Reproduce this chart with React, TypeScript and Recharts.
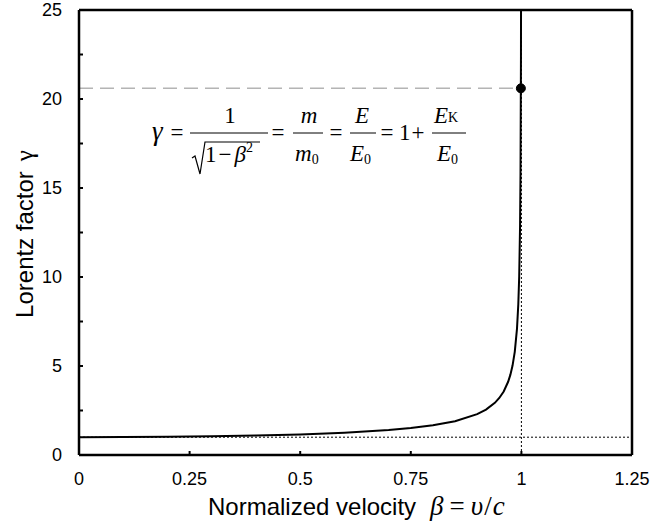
import React from "react";
import {
  LineChart,
  Line,
  XAxis,
  YAxis,
  ReferenceLine,
  ReferenceDot,
} from "recharts";

// speed beta = v/c and the Lorentz factor
const betaValues = [
  0, 0.1, 0.2, 0.3, 0.4, 0.5, 0.6, 0.7, 0.75, 0.8, 0.85, 0.9, 0.92, 0.94, 0.95,
  0.96, 0.97, 0.975, 0.98, 0.985, 0.99, 0.993, 0.995, 0.997, 0.998, 0.999, 0.9995,
];
const gammaValues = [
  1, 1.005, 1.021, 1.048, 1.091, 1.155, 1.25, 1.4, 1.512, 1.667, 1.898, 2.294,
  2.551, 2.931, 3.203, 3.571, 4.113, 4.502, 5.025, 5.795, 7.089, 8.47, 10.01,
  12.92, 15.82, 22.37, 31.63,
];

const xTicks = [0, 0.25, 0.5, 0.75, 1, 1.25];
const yTicks = [0, 2.5, 5, 7.5, 10, 12.5, 15, 17.5, 20, 22.5, 25];

// marked point on the curve
const markBeta = 0.9988;
const markGamma = 20.6;

const data = betaValues.map((b, i) => ({ beta: b, gamma: gammaValues[i] }));

const SANS = "'Liberation Sans', Arial, Helvetica, sans-serif";
const SERIF = "'Liberation Serif', 'Times New Roman', serif";

function YTick(props: any) {
  const { x, y, payload } = props;
  const v = payload.value;
  const major = v % 5 === 0;
  return (
    <g>
      <line x1={x} y1={y} x2={x + 4} y2={y} stroke="#000" strokeWidth={2} />
      {major && (
        <text x={x - 17} y={y + 6} textAnchor="end" fontSize={18} fontFamily={SANS} fill="#000">
          {v}
        </text>
      )}
    </g>
  );
}

function XTick(props: any) {
  const { x, y, payload } = props;
  return (
    <g>
      <line x1={x} y1={y} x2={x} y2={y - 4} stroke="#000" strokeWidth={2} />
      <text x={x} y={y + 30} textAnchor="middle" fontSize={18} fontFamily={SANS} fill="#000">
        {payload.value}
      </text>
    </g>
  );
}

function Formula() {
  const fs = 23;
  const sub = 14;
  return (
    <svg
      width={651}
      height={526}
      style={{ position: "absolute", left: 0, top: 0, pointerEvents: "none" }}
      fontFamily={SERIF}
      fontSize={fs}
      fill="#000"
    >
      <text x={152} y={140} fontStyle="italic" fontSize={27}>γ</text>
      <text x={177} y={140} textAnchor="middle">=</text>
      {/* 1 / sqrt(1 - beta^2) */}
      <line x1={190} y1={133} x2={268} y2={133} stroke="#000" strokeWidth={1} />
      <text x={230} y={123} textAnchor="middle">1</text>
      <path d="M192 158 L195 156 L200 174 L205 142 L260 142" stroke="#000" strokeWidth={1.2} fill="none" />
      <text x={205} y={162}>
        1<tspan dx={2}>−</tspan>
        <tspan dx={3} fontStyle="italic">β</tspan>
        <tspan fontSize={sub} dy={-10}>2</tspan>
      </text>
      <text x={278} y={140} textAnchor="middle">=</text>
      {/* m / m0 */}
      <line x1={293} y1={133} x2={323} y2={133} stroke="#000" strokeWidth={1} />
      <text x={309} y={123} textAnchor="middle" fontStyle="italic">m</text>
      <text x={295} y={161}>
        <tspan fontStyle="italic">m</tspan>
        <tspan fontSize={sub} dy={3}>0</tspan>
      </text>
      <text x={336} y={140} textAnchor="middle">=</text>
      {/* E / E0 */}
      <line x1={350} y1={133} x2={376} y2={133} stroke="#000" strokeWidth={1} />
      <text x={362} y={123} textAnchor="middle" fontStyle="italic">E</text>
      <text x={350} y={161}>
        <tspan fontStyle="italic">E</tspan>
        <tspan fontSize={sub} dy={3}>0</tspan>
      </text>
      <text x={387} y={140} textAnchor="middle">=</text>
      <text x={399} y={140}>1</text>
      <text x={418} y={140} textAnchor="middle">+</text>
      {/* EK / E0 */}
      <line x1={432} y1={133} x2={466} y2={133} stroke="#000" strokeWidth={1} />
      <text x={434} y={123}>
        <tspan fontStyle="italic">E</tspan>
        <tspan fontSize={sub} dy={-1}>K</tspan>
      </text>
      <text x={437} y={161}>
        <tspan fontStyle="italic">E</tspan>
        <tspan fontSize={sub} dy={3}>0</tspan>
      </text>
      {/* axis titles */}
      <text
        transform="translate(33 234) rotate(-90)"
        textAnchor="middle"
        fontFamily={SANS}
        fontSize={24}
      >
        Lorentz factor<tspan dx={10} fontFamily={SERIF} fontSize={25}>γ</tspan>
      </text>
      <text x={208} y={515} fontFamily={SANS} fontSize={24}>
        Normalized velocity
        <tspan dx={14} fontFamily={SERIF} fontStyle="italic" fontSize={27}>β</tspan>
        <tspan dx={6} fontFamily={SERIF} fontSize={27}>=</tspan>
        <tspan dx={6} fontFamily={SERIF} fontStyle="italic" fontSize={27}>υ</tspan>
        <tspan dx={1} fontFamily={SERIF} fontSize={27}>/</tspan>
        <tspan dx={1} fontFamily={SERIF} fontStyle="italic" fontSize={27}>c</tspan>
      </text>
    </svg>
  );
}

export default function App() {
  return (
    <div style={{ position: "absolute", left: 0, top: 0, width: 651, height: 526, background: "#fff" }}>
      <LineChart
        width={651}
        height={526}
        data={data}
        margin={{ top: 10, right: 19, left: 19, bottom: 41 }}
      >
        <XAxis
          dataKey="beta"
          type="number"
          domain={[0, 1.25]}
          ticks={xTicks}
          interval={0}
          allowDataOverflow
          height={30}
          tickSize={0}
          tickMargin={0}
          tickLine={false}
          tick={<XTick />}
          axisLine={{ stroke: "#000", strokeWidth: 2.5 }}
        />
        <YAxis
          type="number"
          domain={[0, 25]}
          ticks={yTicks}
          interval={0}
          allowDataOverflow
          width={60}
          tickSize={0}
          tickMargin={0}
          tickLine={false}
          tick={<YTick />}
          axisLine={{ stroke: "#000", strokeWidth: 2.5 }}
        />
        <ReferenceLine y={25} stroke="#000" strokeWidth={2.5} />
        <ReferenceLine x={1.25} stroke="#000" strokeWidth={2.5} />
        <ReferenceLine y={1} stroke="#000" strokeWidth={1} strokeDasharray="2 2" />
        <ReferenceLine x={1} stroke="#000" strokeWidth={1} strokeDasharray="2 2" />
        <ReferenceLine
          segment={[
            { x: 0, y: markGamma },
            { x: markBeta, y: markGamma },
          ]}
          stroke="#b4b4b4"
          strokeWidth={1.5}
          strokeDasharray="14 7"
        />
        <Line
          type="linear"
          dataKey="gamma"
          stroke="#000"
          strokeWidth={2}
          dot={false}
          isAnimationActive={false}
        />
        <ReferenceDot x={markBeta} y={markGamma} r={4.5} fill="#000" stroke="#000" />
      </LineChart>
      <Formula />
    </div>
  );
}
